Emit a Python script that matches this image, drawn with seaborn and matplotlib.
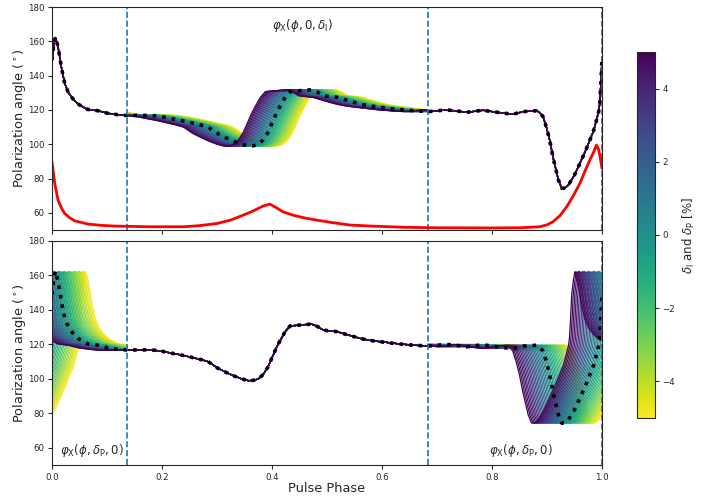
import matplotlib
matplotlib.use("Agg")

import matplotlib.pyplot as plt
import seaborn as sns
import numpy as np
import pandas as pd
from matplotlib.colors import Normalize
from matplotlib.cm import ScalarMappable

# base polarization angle curve (deg) vs pulse phase
BASE_PHASE = [0.000, 0.003, 0.006, 0.011, 0.017, 0.023, 0.030, 0.035, 0.042, 0.050,
              0.065, 0.084, 0.102, 0.120, 0.137, 0.160, 0.181, 0.197, 0.212, 0.230,
              0.248, 0.266, 0.284, 0.293, 0.302, 0.315, 0.327, 0.342, 0.357, 0.366,
              0.375, 0.384, 0.393, 0.401, 0.409, 0.417, 0.424, 0.433, 0.450, 0.472,
              0.482, 0.493, 0.505, 0.518, 0.540, 0.560, 0.578, 0.596, 0.615, 0.633,
              0.655, 0.684, 0.700, 0.718, 0.736, 0.754, 0.770, 0.784, 0.800, 0.815,
              0.830, 0.839, 0.857, 0.870, 0.881, 0.887, 0.893, 0.899, 0.905, 0.910,
              0.915, 0.921, 0.927, 0.933, 0.939, 0.950, 0.960, 0.970, 0.978, 0.985,
              0.990, 0.994, 0.996, 0.998, 1.000]
BASE_ANGLE = [149.0, 157.0, 162.5, 157.0, 145.0, 135.5, 130.0, 127.7, 125.0, 122.9,
              120.3, 119.5, 118.0, 117.2, 116.7, 116.8, 116.8, 116.2, 115.2, 114.2,
              112.9, 111.6, 110.0, 108.0, 106.1, 104.0, 102.2, 100.3, 98.9, 99.1,
              99.9, 102.5, 107.0, 113.0, 118.7, 123.5, 127.4, 130.7, 131.2, 131.8,
              130.5, 128.3, 127.8, 127.4, 125.3, 123.5, 122.3, 121.6, 120.8, 120.2,
              119.6, 119.0, 119.5, 120.0, 119.4, 118.6, 119.3, 119.8, 119.0, 118.4,
              117.8, 117.6, 119.0, 119.3, 119.5, 118.5, 116.0, 110.0, 102.4, 94.0,
              86.9, 79.0, 74.3, 74.5, 76.2, 82.0, 88.9, 96.0, 102.4, 108.0,
              114.0, 119.0, 123.8, 135.0, 149.0]

# red curve in the upper panel
RED_PHASE = [0.000, 0.005, 0.011, 0.017, 0.023, 0.032, 0.041, 0.065, 0.090, 0.114,
             0.175, 0.240, 0.270, 0.300, 0.325, 0.348, 0.365, 0.384, 0.396, 0.408,
             0.420, 0.440, 0.460, 0.481, 0.510, 0.542, 0.580, 0.640, 0.700, 0.800,
             0.850, 0.887, 0.900, 0.911, 0.924, 0.936, 0.948, 0.960, 0.970, 0.978,
             0.985, 0.990, 0.994, 0.997, 1.000]
RED_ANGLE = [89.8, 77.2, 67.5, 63.0, 59.7, 57.2, 55.4, 53.5, 52.7, 52.3,
             51.9, 51.9, 52.6, 53.8, 55.8, 58.7, 61.0, 64.0, 65.1, 63.0,
             60.6, 58.5, 57.0, 55.8, 54.3, 52.9, 52.3, 51.6, 51.3, 51.2,
             51.3, 51.9, 53.0, 54.8, 58.5, 63.6, 70.0, 77.2, 85.0, 90.8,
             95.5, 99.5, 97.0, 92.0, 86.0]

DELTAS = np.linspace(-5, 5, 41)      # delta_I / delta_P in %
WINDOW = (0.137, 0.683)              # dashed phase boundaries
SHIFT_TOP = 0.009                    # phase shift per % (upper panel)
SHIFT_BOT = 0.011                    # phase shift per % (lower panel)

phase = np.linspace(0, 1, 1201)
inside = (phase >= WINDOW[0]) & (phase <= WINDOW[1])


def base_at(ph):
    return np.interp(np.mod(ph, 1.0), BASE_PHASE, BASE_ANGLE)


def family(shift, mask):
    rows = []
    for d in DELTAS:
        ang = np.where(mask, base_at(phase + d * shift), base_at(phase))
        rows.append(pd.DataFrame({"phase": phase, "angle": ang, "delta": d}))
    return pd.concat(rows, ignore_index=True)


df_top = family(SHIFT_TOP, inside)
df_bot = family(SHIFT_BOT, ~inside)

sns.set_style("ticks")
fig = plt.figure(figsize=(7.1, 4.97), dpi=100)
ax1 = fig.add_axes([0.0732, 0.5372, 0.7746, 0.4487])
ax2 = fig.add_axes([0.0732, 0.0644, 0.7746, 0.4507], sharex=ax1)
cax = fig.add_axes([0.897, 0.159, 0.0254, 0.7364])

for ax, df in [(ax1, df_top), (ax2, df_bot)]:
    sns.lineplot(data=df, x="phase", y="angle", hue="delta", palette="viridis_r",
                 hue_norm=(-5, 5), estimator=None, legend=False, sort=False,
                 lw=0.9, ax=ax)
    ax.plot(BASE_PHASE, BASE_ANGLE, color="k", ls=":", lw=2.6)
    for xv in [0.0, WINDOW[0], WINDOW[1], 1.0]:
        ax.axvline(xv, color="C0", ls="--", lw=1.2)
    ax.set_xlim(0, 1)
    ax.set_ylim(50, 180)
    ax.set_yticks([60, 80, 100, 120, 140, 160, 180])
    ax.set_ylabel("Polarization angle ($^\\circ$)", fontsize=9.3, labelpad=0)
    ax.tick_params(labelsize=6.2, length=3, pad=2.5)

ax1.plot(RED_PHASE, RED_ANGLE, color="red", lw=2)
ax1.set_xlabel("")
plt.setp(ax1.get_xticklabels(), visible=False)
ax2.set_xlabel("Pulse Phase", fontsize=9.3, labelpad=0)

ax1.text(0.455, 169.5, r"$\varphi_\mathrm{X}(\phi, 0, \delta_\mathrm{I})$",
         ha="center", va="center", fontsize=8.5)
ax2.text(0.072, 58.3, r"$\varphi_\mathrm{X}(\phi, \delta_\mathrm{P}, 0)$",
         ha="center", va="center", fontsize=8.5)
ax2.text(0.853, 58.3, r"$\varphi_\mathrm{X}(\phi, \delta_\mathrm{P}, 0)$",
         ha="center", va="center", fontsize=8.5)

sm = ScalarMappable(norm=Normalize(-5, 5), cmap="viridis_r")
cb = fig.colorbar(sm, cax=cax, ticks=[-4, -2, 0, 2, 4])
cb.set_label(r"$\delta_\mathrm{I}$ and $\delta_\mathrm{P}$ [%]", fontsize=8.5)
cb.ax.tick_params(labelsize=6.2, length=3, pad=2.5)

fig.savefig("out.png", dpi=100)
